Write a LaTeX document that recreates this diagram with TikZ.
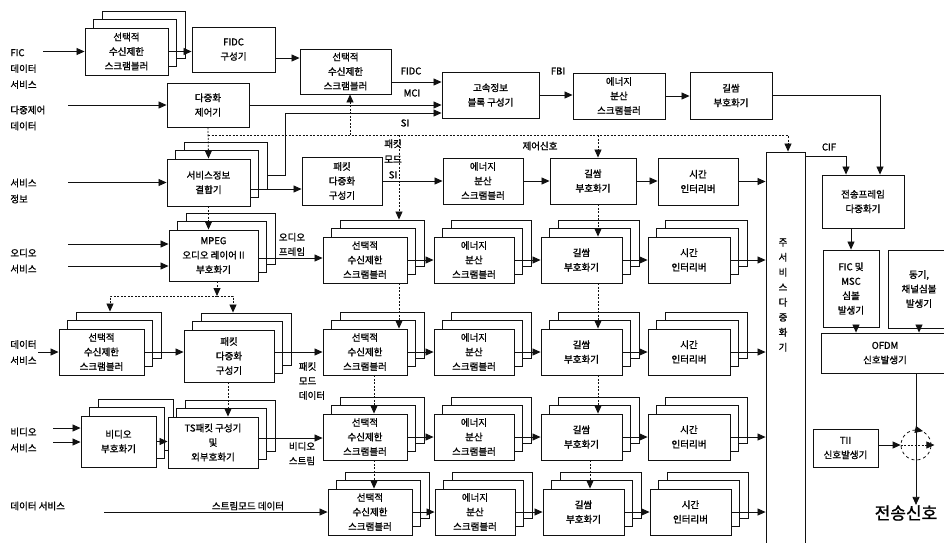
\documentclass[tikz,border=0pt]{standalone}
\usepackage{fontspec}
\setmainfont{Noto Sans CJK KR}[FakeBold=1.2]
\usetikzlibrary{arrows.meta, calc}
\definecolor{inkcolor}{HTML}{111111}

\begin{document}
\begin{tikzpicture}[
    x=1pt, y=-1pt,
    line width=0.8pt,
    blk/.style={draw=inkcolor, fill=white, line width=0.9pt, align=center, inner sep=0pt, font=\fontsize{9.5}{14.5}\selectfont},
    stack/.style={blk,
      preaction={draw=inkcolor, fill=white, transform canvas={shift={(17pt,17pt)}}},
      preaction={draw=inkcolor, fill=white, transform canvas={shift={(8.5pt,8.5pt)}}}},
    lbl/.style={align=left, anchor=west, inner sep=0pt, font=\fontsize{9.5}{16}\selectfont},
    tag/.style={align=center, inner sep=0pt, font=\fontsize{9.5}{14.5}\selectfont},
    arr/.style={draw=inkcolor, -{Triangle[length=8pt, width=7pt]}},
    ctrl/.style={draw=inkcolor, dash pattern=on 2pt off 1.5pt, -{Triangle[length=8pt, width=7pt]}}
]

  \useasboundingbox (0,0) rectangle (944,542);
  \fill[white] (0,0) rectangle (944,542);
  \clip (0,0) rectangle (944,542);

  % 1. Input labels
  \node[lbl] (ficlbl) at (10,69) {FIC\\데이터\\서비스};
  \node[lbl] (ctllbl) at (10,118) {다중제어\\데이터};
  \node[lbl] (silbl) at (10,191) {서비스\\정보};
  \node[lbl] (albl) at (10,261) {오디오\\서비스};
  \node[lbl] (dlbl) at (10,352.5) {데이터\\서비스};
  \node[lbl] (vlbl) at (10,440) {비디오\\서비스};
  \node[lbl] (slbl) at (10,506) {데이터 서비스};

  % 2. FIC path (top row)
  \node[stack, minimum width=83, minimum height=47] (ficscr) at (126.5,51.5) {선택적\\수신제한\\스크램블러};
  \node[blk, minimum width=83, minimum height=45] (fidc) at (233.5,49.5) {FIDC\\구성기};
  \node[blk, minimum width=91, minimum height=45] (fidcscr) at (345.5,71.5) {선택적\\수신제한\\스크램블러};
  \node[blk, minimum width=82, minimum height=44] (muxctl) at (208,105) {다중화\\제어기};
  \node[blk, minimum width=97, minimum height=46] (fib) at (490.5,95) {고속정보\\블록 구성기};
  \node[blk, minimum width=92, minimum height=46] (fibesc) at (619,96) {에너지\\분산\\스크램블러};
  \node[blk, minimum width=82, minimum height=47] (fibconv) at (731,95.5) {길쌈\\부호화기};

  % 3. Service information row
  \node[stack, minimum width=83, minimum height=47] (sinfo) at (208.5,182.5) {서비스정보\\결합기};
  \node[blk, minimum width=80, minimum height=48] (pktsi) at (342,181) {패킷\\다중화\\구성기};
  \node[blk, minimum width=80, minimum height=46] (siesc) at (483,181) {에너지\\분산\\스크램블러};
  \node[blk, minimum width=86, minimum height=46] (siconv) at (593,181) {길쌈\\부호화기};
  \node[blk, minimum width=80, minimum height=47] (siti) at (698,181.5) {시간\\인터리버};

  % 4. Audio row
  \node[stack, minimum width=89, minimum height=51] (mpeg) at (213.5,255.5) {MPEG\\오디오 레이어 II\\부호화기};
  \node[stack, minimum width=84, minimum height=46] (ascr) at (365,260) {선택적\\수신제한\\스크램블러};
  \node[stack, minimum width=80, minimum height=46] (aesc) at (474,260) {에너지\\분산\\스크램블러};
  \node[stack, minimum width=81, minimum height=46] (aconv) at (581.5,260) {길쌈\\부호화기};
  \node[stack, minimum width=82, minimum height=46] (ati) at (689,260) {시간\\인터리버};

  % 5. Packet data row
  \node[stack, minimum width=85, minimum height=46] (dscr) at (101.5,352) {선택적\\수신제한\\스크램블러};
  \node[stack, minimum width=90, minimum height=52] (dpkt) at (229,356) {패킷\\다중화\\구성기};
  \node[stack, minimum width=84, minimum height=46] (pscr) at (365,352) {선택적\\수신제한\\스크램블러};
  \node[stack, minimum width=80, minimum height=46] (pesc) at (474,352) {에너지\\분산\\스크램블러};
  \node[stack, minimum width=81, minimum height=46] (pconv) at (581.5,352) {길쌈\\부호화기};
  \node[stack, minimum width=82, minimum height=46] (pti) at (689,352) {시간\\인터리버};

  % 6. Video row
  \node[stack, minimum width=75, minimum height=51] (venc) at (118.5,441.5) {비디오\\부호화기};
  \node[stack, minimum width=90, minimum height=51] (ts) at (213,442.5) {TS패킷 구성기\\및\\외부호화기};
  \node[stack, minimum width=84, minimum height=46] (vscr) at (365,437) {선택적\\수신제한\\스크램블러};
  \node[stack, minimum width=80, minimum height=46] (vesc) at (474,437) {에너지\\분산\\스크램블러};
  \node[stack, minimum width=81, minimum height=46] (vconv) at (581.5,437) {길쌈\\부호화기};
  \node[stack, minimum width=82, minimum height=46] (vti) at (689,437) {시간\\인터리버};

  % 7. Stream mode row
  \node[stack, minimum width=84, minimum height=46] (sscr) at (370,512) {선택적\\수신제한\\스크램블러};
  \node[stack, minimum width=80, minimum height=46] (sesc) at (475,512) {에너지\\분산\\스크램블러};
  \node[stack, minimum width=81, minimum height=46] (sconv) at (583.5,512) {길쌈\\부호화기};
  \node[stack, minimum width=81, minimum height=46] (sti) at (690.5,512) {시간\\인터리버};

  % 8. Main service multiplexer and transmission side
  \node[draw=inkcolor, line width=0.9pt, minimum width=39, minimum height=400, inner sep=0pt] (mux) at (785.5,352) {};
  \node[tag, font=\fontsize{9.5}{15}\selectfont] (muxtxt) at (783,295) {주\\서\\비\\스\\다\\중\\화\\기};
  \node[blk, minimum width=82, minimum height=53] (tfm) at (863,201.5) {전송프레임\\다중화기};
  \node[blk, minimum width=56, minimum height=77] (ficsym) at (851,288.5) {FIC 및\\MSC\\심볼\\발생기};
  \node[blk, minimum width=62, minimum height=78] (sync) at (919,289) {동기,\\채널심볼\\발생기};
  \node[blk, minimum width=128, minimum height=40] (ofdm) at (885,353) {OFDM\\신호발생기};
  \node[blk, minimum width=65, minimum height=38] (tii) at (845.5,448) {TII\\신호발생기};
  \node[circle, draw=inkcolor, dashed, minimum size=30, inner sep=0pt] (mix) at (916,445) {};
  \node[inner sep=0pt, font=\fontsize{17}{20}\selectfont] (out) at (906,513) {전송신호};

  % 9. Line labels
  \node[tag] (fidctag) at (411,71) {FIDC};
  \node[tag] (mcitag) at (412,93) {MCI};
  \node[tag] (sitag) at (405,123) {SI};
  \node[tag] (fbitag) at (558,71) {FBI};
  \node[tag] (ciftag) at (829,147) {CIF};
  \node[tag] (ctltag) at (540,146) {제어신호};
  \node[tag, font=\fontsize{9.5}{15.5}\selectfont] (pmsitag) at (393,159) {패킷\\모드\\SI};
  \node[tag] (aftag) at (292,244.5) {오디오\\프레임};
  \node[tag, align=left] (pdtag) at (312,381) {패킷\\모드\\데이터};
  \node[tag, align=left] (vstag) at (302,453.5) {비디오\\스트림};
  \node[tag] (smtag) at (248,506) {스트림모드 데이터};

  % 10. Inputs
  \coordinate (ficin) at (43,51.5);
  \coordinate (ctlin) at (68,105);
  \coordinate (siin) at (68,182.5);
  \coordinate (ain1) at (68,244);
  \coordinate (ain2) at (68,266);
  \coordinate (din) at (38,352);
  \coordinate (vin1) at (53,428);
  \coordinate (vin2) at (53,442);
  \coordinate (strin) at (104,512);
  \draw[arr] (ficin) -- (ficscr.west);
  \draw[arr] (ctlin) -- (muxctl.west);
  \draw[arr] (siin) -- (sinfo.west);
  \draw[arr] (ain1) -- (ain1 -| mpeg.west);
  \draw[arr] (ain2) -- (ain2 -| mpeg.west);
  \draw[arr] (din) -- (dscr.west);
  \draw[arr] (vin1) -- (vin1 -| venc.west);
  \draw[arr] (vin2) -- (vin2 -| venc.west);
  \draw[arr] (strin) -- (sscr.west);

  % 11. Data flow
  \coordinate (sibend) at (285,113);
  \draw[arr] (ficscr.east) -- (ficscr.east -| fidc.west);
  \draw[arr] ([yshift=-8.5pt]fidc.east) -- ([yshift=-8.5pt]fidc.east -| fidcscr.west);
  \draw[arr] ([yshift=-10.5pt]fidcscr.east) -- ([yshift=-10.5pt]fidcscr.east -| fib.west);
  \draw[arr] (muxctl.east) -- (muxctl.east -| fib.west);
  \draw[arr] ([shift={(17pt,7.5pt)}]sinfo.east) -| (sibend) -- (sibend -| fib.west);
  \draw[arr] (fib.east) -- (fib.east -| fibesc.west);
  \draw[arr] (fibesc.east) -- (fibesc.east -| fibconv.west);
  \draw[arr] (fibconv.east) -| ([xshift=17pt]tfm.north);
  \draw[arr] ([yshift=-5pt]mux.north east) -| ([xshift=-17pt]tfm.north);

  \draw[arr] ([yshift=-6.5pt]sinfo.east) -- ([yshift=-6.5pt]sinfo.east -| pktsi.west);
  \draw[arr] (pktsi.east) -- (pktsi.east -| siesc.west);
  \draw[arr] (siesc.east) -- (siesc.east -| siconv.west);
  \draw[arr] (siconv.east) -- (siconv.east -| siti.west);
  \draw[arr] (siti.east) -- (siti.east -| mux.west);

  \draw[arr] ([yshift=-2.5pt]mpeg.east) -- ([yshift=-2.5pt]mpeg.east -| ascr.west);
  \draw[arr] (ascr.east) -- (aesc.west);
  \draw[arr] (aesc.east) -- (aconv.west);
  \draw[arr] (aconv.east) -- (ati.west);
  \draw[arr] (ati.east) -- (ati.east -| mux.west);

  \draw[arr] (dscr.east) -- (dscr.east -| dpkt.west);
  \draw[arr] ([yshift=4pt]dpkt.east) -- ([yshift=4pt]dpkt.east -| pscr.west);
  \draw[arr] (pscr.east) -- (pesc.west);
  \draw[arr] (pesc.east) -- (pconv.west);
  \draw[arr] (pconv.east) -- (pti.west);
  \draw[arr] (pti.east) -- (pti.east -| mux.west);

  \draw[arr] (venc.east) -- (venc.east -| ts.west);
  \draw[arr] ([yshift=4.5pt]ts.east) -- ([yshift=4.5pt]ts.east -| vscr.west);
  \draw[arr] (vscr.east) -- (vesc.west);
  \draw[arr] (vesc.east) -- (vconv.west);
  \draw[arr] (vconv.east) -- (vti.west);
  \draw[arr] (vti.east) -- (vti.east -| mux.west);

  \draw[arr] (sscr.east) -- (sesc.west);
  \draw[arr] (sesc.east) -- (sconv.west);
  \draw[arr] (sconv.east) -- (sti.west);
  \draw[arr] (sti.east) -- (sti.east -| mux.west);

  \draw[arr] (ficsym.north |- tfm.south) -- (ficsym.north);
  \draw[arr] ([xshift=5pt]ficsym.south) -- ([xshift=5pt]ficsym.south |- ofdm.north);
  \draw[arr] (sync.south) -- (sync.south |- ofdm.north);
  \draw[arr] (ofdm.south -| mix.center) -- (out.north -| mix.center);
  \draw[arr] (tii.east |- mix.west) -- (mix.west);
  \draw[ctrl] (mix.west) -- ([xshift=3pt]mix.east);
  \draw[arr] (mix.north) -- ([shift={(7pt,-1.5pt)}]mix.north);

  % 12. Control signals (dashed)
  \coordinate (bus) at (208,135);
  \coordinate (dbus) at (217,296);
  \draw[ctrl] (muxctl.south) -- (sinfo.north);
  \draw[ctrl] (bus) -| ([xshift=2.5pt]mux.north);
  \draw[ctrl] ([xshift=4.5pt]bus -| fidcscr.south) -- ([xshift=4.5pt]fidcscr.south);
  \draw[ctrl] ([xshift=5pt]bus -| siconv.north) -- ([xshift=5pt]siconv.north);
  \draw[ctrl] ([xshift=34pt]bus -| ascr.north) -- ([shift={(34pt,17pt)}]ascr.north);
  \draw[ctrl] ([xshift=5pt]siconv.south) -- ([xshift=5pt]siconv.south |- aconv.north);
  \draw[ctrl] ([xshift=16.5pt]aconv.south) -- ([xshift=16.5pt]pconv.north);
  \draw[ctrl] ([xshift=16.5pt]pconv.south) -- ([xshift=16.5pt]vconv.north);
  \draw[ctrl] ([xshift=8.5pt]vconv.south) -- ([xshift=8.5pt]vconv.south |- sconv.north);
  \draw[ctrl] ([xshift=34pt]ascr.south) -- ([xshift=34pt]pscr.north);
  \draw[ctrl] ([xshift=9pt]pscr.south) -- ([xshift=9pt]vscr.north);
  \draw[ctrl] ([xshift=9pt]vscr.south) -- ([xshift=9pt]vscr.south |- sscr.north);
  \draw[ctrl] (sinfo.south) -- (sinfo.south |- mpeg.north);
  \draw[ctrl] (mpeg.south -| dbus) -- (dbus);
  \draw[ctrl] (dbus) -| ([shift={(8.5pt,17pt)}]dscr.north);
  \draw[ctrl] (dbus) -| ([shift={(4pt,17pt)}]dpkt.north);
  \draw[ctrl] ([xshift=-1pt]dpkt.south) -- ([xshift=-1pt]dpkt.south |- ts.north);

\end{tikzpicture}
\end{document}
